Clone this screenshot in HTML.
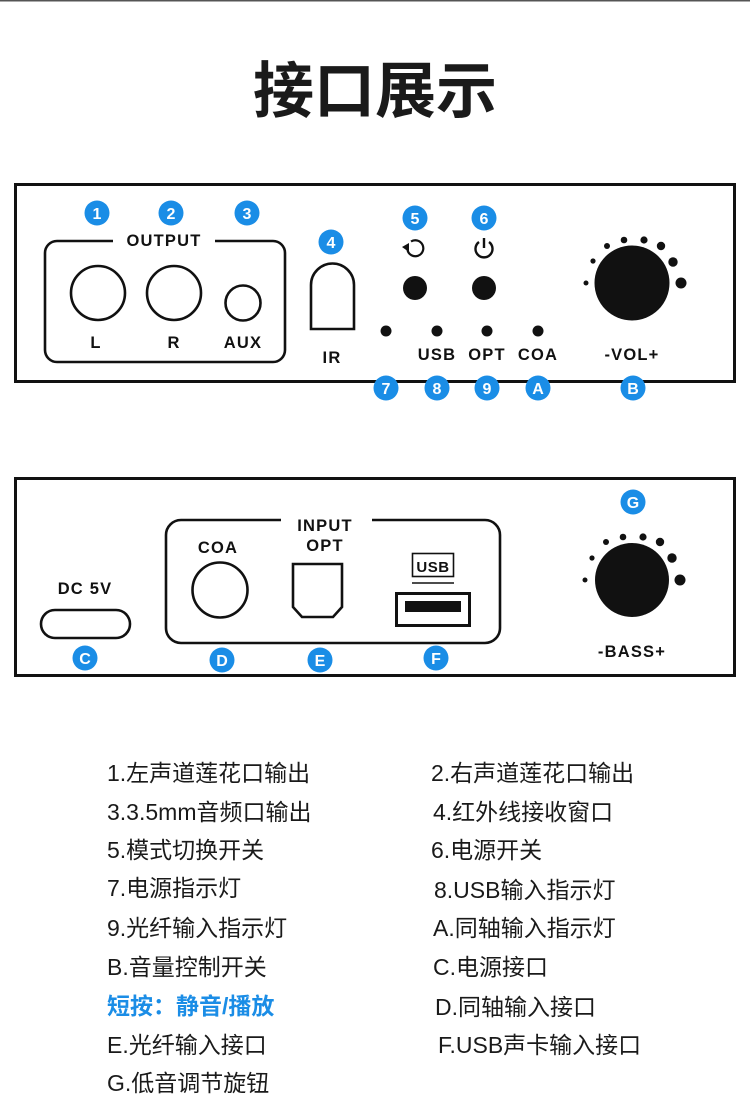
<!DOCTYPE html>
<html><head><meta charset="utf-8">
<style>
html,body{margin:0;padding:0;background:#fff;}
svg{display:block;}
.b{font-family:"Liberation Sans",Arial,sans-serif;font-weight:bold;fill:#111;text-anchor:middle;font-size:16.5px;letter-spacing:1.2px;}
.bd{font-family:"Liberation Sans",Arial,sans-serif;font-weight:bold;fill:#fff;text-anchor:middle;font-size:16px;}
.t{font-family:"Liberation Sans","Noto Sans CJK SC",sans-serif;font-size:23px;fill:#1a1a1a;}
</style></head>
<body>
<svg width="750" height="1118" viewBox="0 0 750 1118" xmlns="http://www.w3.org/2000/svg">
<rect x="0" y="0" width="750" height="1.5" fill="#555"/>
<text x="375" y="112" text-anchor="middle" style="font-family:'Noto Sans CJK SC','WenQuanYi Zen Hei',sans-serif;font-weight:700;font-size:61px;fill:#1a1a1a;">接口展示</text>

<!-- TOP PANEL -->
<g fill="none" stroke="#111">
<rect x="15.5" y="184.5" width="719" height="197" stroke-width="3"/>
<path d="M113,241 H57 A12,12 0 0 0 45,253 V350 A12,12 0 0 0 57,362 H273 A12,12 0 0 0 285,350 V253 A12,12 0 0 0 273,241 H215" stroke-width="2.6"/>
<circle cx="98" cy="293" r="27" stroke-width="2.6"/>
<circle cx="174" cy="293" r="27" stroke-width="2.6"/>
<circle cx="243" cy="303" r="17.5" stroke-width="2.6"/>
<path d="M311,329 V285 A21.5,21.5 0 0 1 354,285 V329 Z" stroke-width="2.6"/>
<path d="M411,241.5 A8,8 0 1 1 407.5,250" stroke-width="2.2"/>
<path d="M479,242 A8.5,8.5 0 1 0 489,242" stroke-width="2.4"/>
<line x1="484" y1="238" x2="484" y2="248" stroke-width="2.4"/>
</g>
<polygon points="402,247 409,243 409,252" fill="#111"/>
<text class="b" x="164" y="246">OUTPUT</text>
<text class="b" x="96" y="348">L</text>
<text class="b" x="174" y="348">R</text>
<text class="b" x="243" y="348">AUX</text>
<text class="b" x="332" y="363">IR</text>
<circle cx="415" cy="288" r="12" fill="#111"/>
<circle cx="484" cy="288" r="12" fill="#111"/>
<g fill="#111">
<circle cx="386" cy="331" r="5.5"/><circle cx="437" cy="331" r="5.5"/><circle cx="487" cy="331" r="5.5"/><circle cx="538" cy="331" r="5.5"/>
</g>
<text class="b" x="437" y="360">USB</text>
<text class="b" x="487" y="360">OPT</text>
<text class="b" x="538" y="360">COA</text>
<g fill="#111">
<circle cx="632" cy="283" r="37.5"/>
<circle cx="586" cy="283" r="2.5"/><circle cx="593" cy="261" r="2.6"/><circle cx="607" cy="246" r="3"/><circle cx="624" cy="240" r="3.3"/><circle cx="644" cy="240" r="3.6"/><circle cx="661" cy="246" r="4.2"/><circle cx="673" cy="262" r="4.7"/><circle cx="681" cy="283" r="5.5"/>
</g>
<text class="b" x="632" y="360">-VOL+</text>

<!-- BOTTOM PANEL -->
<g fill="none" stroke="#111">
<rect x="15.5" y="478.5" width="719" height="197" stroke-width="3"/>
<rect x="41" y="610" width="89" height="28" rx="14" stroke-width="2.6"/>
<path d="M281,520 H181 A15,15 0 0 0 166,535 V628 A15,15 0 0 0 181,643 H485 A15,15 0 0 0 500,628 V535 A15,15 0 0 0 485,520 H372" stroke-width="2.6"/>
<circle cx="220" cy="590" r="27.5" stroke-width="2.6"/>
<path d="M293,564 H342 V607 L333,617 H302 L293,607 Z" stroke-width="2.6"/>
<rect x="412.5" y="553.5" width="41" height="23" stroke-width="1.6"/>
<line x1="412" y1="583" x2="454" y2="583" stroke-width="1.6"/>
<rect x="396.5" y="593.5" width="73" height="32" stroke-width="3"/>
</g>
<rect x="405" y="601" width="56" height="11" fill="#111"/>
<text class="b" x="85" y="594">DC 5V</text>
<text class="b" x="325" y="531">INPUT</text>
<text class="b" x="325" y="551">OPT</text>
<text class="b" x="218" y="553">COA</text>
<text class="b" x="433" y="572" style="font-size:15px;letter-spacing:0.5px">USB</text>
<g fill="#111">
<circle cx="632" cy="580" r="37"/>
<circle cx="585" cy="580" r="2.5"/><circle cx="592" cy="558" r="2.6"/><circle cx="606" cy="542" r="3"/><circle cx="623" cy="537" r="3.3"/><circle cx="643" cy="537" r="3.6"/><circle cx="660" cy="542" r="4.2"/><circle cx="672" cy="558" r="4.7"/><circle cx="680" cy="580" r="5.5"/>
</g>
<text class="b" x="632" y="657">-BASS+</text>

<!-- BADGES -->
<g fill="#1a8de6">
<circle cx="97" cy="213" r="12.5"/><circle cx="171" cy="213" r="12.5"/><circle cx="247" cy="213" r="12.5"/><circle cx="331" cy="242" r="12.5"/>
<circle cx="415" cy="218" r="12.5"/><circle cx="484" cy="218" r="12.5"/>
<circle cx="386" cy="388" r="12.5"/><circle cx="437" cy="388" r="12.5"/><circle cx="487" cy="388" r="12.5"/><circle cx="538" cy="388" r="12.5"/><circle cx="633" cy="388" r="12.5"/>
<circle cx="85" cy="658" r="12.5"/><circle cx="222" cy="660" r="12.5"/><circle cx="320" cy="660" r="12.5"/><circle cx="436" cy="658" r="12.5"/><circle cx="633" cy="502" r="12.5"/>
</g>
<text class="bd" x="97" y="219">1</text><text class="bd" x="171" y="219">2</text><text class="bd" x="247" y="219">3</text><text class="bd" x="331" y="248">4</text>
<text class="bd" x="415" y="224">5</text><text class="bd" x="484" y="224">6</text>
<text class="bd" x="386" y="394">7</text><text class="bd" x="437" y="394">8</text><text class="bd" x="487" y="394">9</text><text class="bd" x="538" y="394">A</text><text class="bd" x="633" y="394">B</text>
<text class="bd" x="85" y="664">C</text><text class="bd" x="222" y="666">D</text><text class="bd" x="320" y="666">E</text><text class="bd" x="436" y="664">F</text><text class="bd" x="633" y="508">G</text>

<!-- LIST -->
<text class="t" x="107" y="781">1.左声道莲花口输出</text>
<text class="t" x="107" y="820">3.3.5mm音频口输出</text>
<text class="t" x="107" y="858">5.模式切换开关</text>
<text class="t" x="107" y="896">7.电源指示灯</text>
<text class="t" x="107" y="936">9.光纤输入指示灯</text>
<text class="t" x="107" y="975">B.音量控制开关</text>
<text class="t" x="107" y="1014" style="fill:#1b8de6;font-weight:bold;">短按：静音/播放</text>
<text class="t" x="107" y="1053">E.光纤输入接口</text>
<text class="t" x="107" y="1091">G.低音调节旋钮</text>

<text class="t" x="431" y="781">2.右声道莲花口输出</text>
<text class="t" x="433" y="820">4.红外线接收窗口</text>
<text class="t" x="431" y="858">6.电源开关</text>
<text class="t" x="434" y="898">8.USB输入指示灯</text>
<text class="t" x="433" y="936">A.同轴输入指示灯</text>
<text class="t" x="433" y="975">C.电源接口</text>
<text class="t" x="435" y="1015">D.同轴输入接口</text>
<text class="t" x="438" y="1053">F.USB声卡输入接口</text>
</svg>
</body></html>
